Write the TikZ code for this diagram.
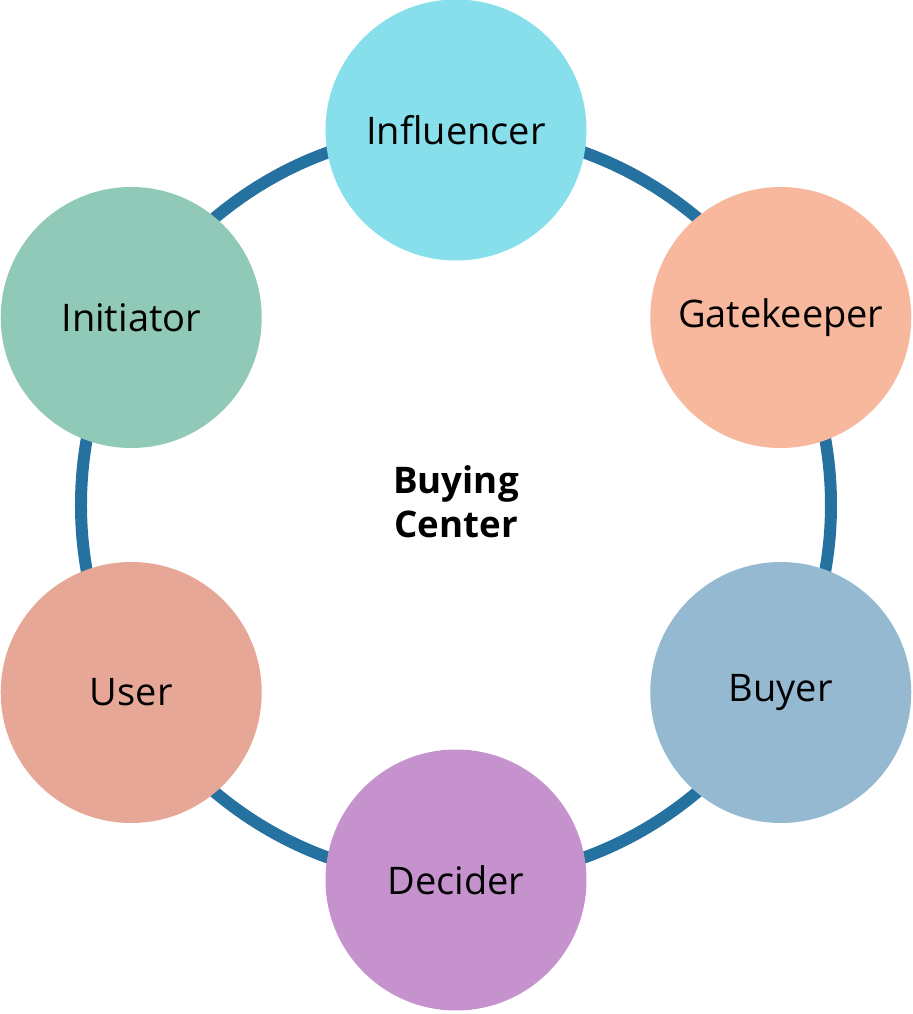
\documentclass[tikz,border=0pt]{standalone}
\usepackage{fontspec}
\setmainfont{Open Sans}
\usepackage{xcolor}
\usetikzlibrary{positioning}
\definecolor{ringblue}{RGB}{37,114,160}
\definecolor{influcol}{RGB}{135,223,236}
\definecolor{gatecol}{RGB}{248,184,158}
\definecolor{buyercol}{RGB}{148,185,208}
\definecolor{decidercol}{RGB}{197,146,206}
\definecolor{usercol}{RGB}{231,167,151}
\definecolor{initcol}{RGB}{144,201,183}
\tikzset{
  ring/.style={draw=ringblue, line width=9pt},
  role/.style={circle, inner sep=0pt, minimum size=195.75pt, align=center,
    font=\fontsize{28.5pt}{34pt}\selectfont},
  hub/.style={align=center, font=\fontsize{27.5pt}{33pt}\selectfont\bfseries}
}
\begin{document}
\begin{tikzpicture}[x=0.75pt, y=0.75pt]
  \useasboundingbox (-456,-509) rectangle (457,505);
  \node[hub] (hub) at (0,3) {Buying\\Center};
  \draw[ring] (0,0) circle (375);

  \node[role, fill=influcol] (infl) at (90:375) {Influencer};
  \node[role, fill=gatecol] (gate) at (30:375) {Gatekeeper};
  \node[role, fill=buyercol] (buyer) at (-30:375) {Buyer};
  \node[role, fill=decidercol] (decider) at (-90:375) {Decider};
  \node[role, fill=usercol] (user) at (210:375) {User};
  \node[role, fill=initcol] (init) at (150:375) {Initiator};
\end{tikzpicture}
\end{document}
